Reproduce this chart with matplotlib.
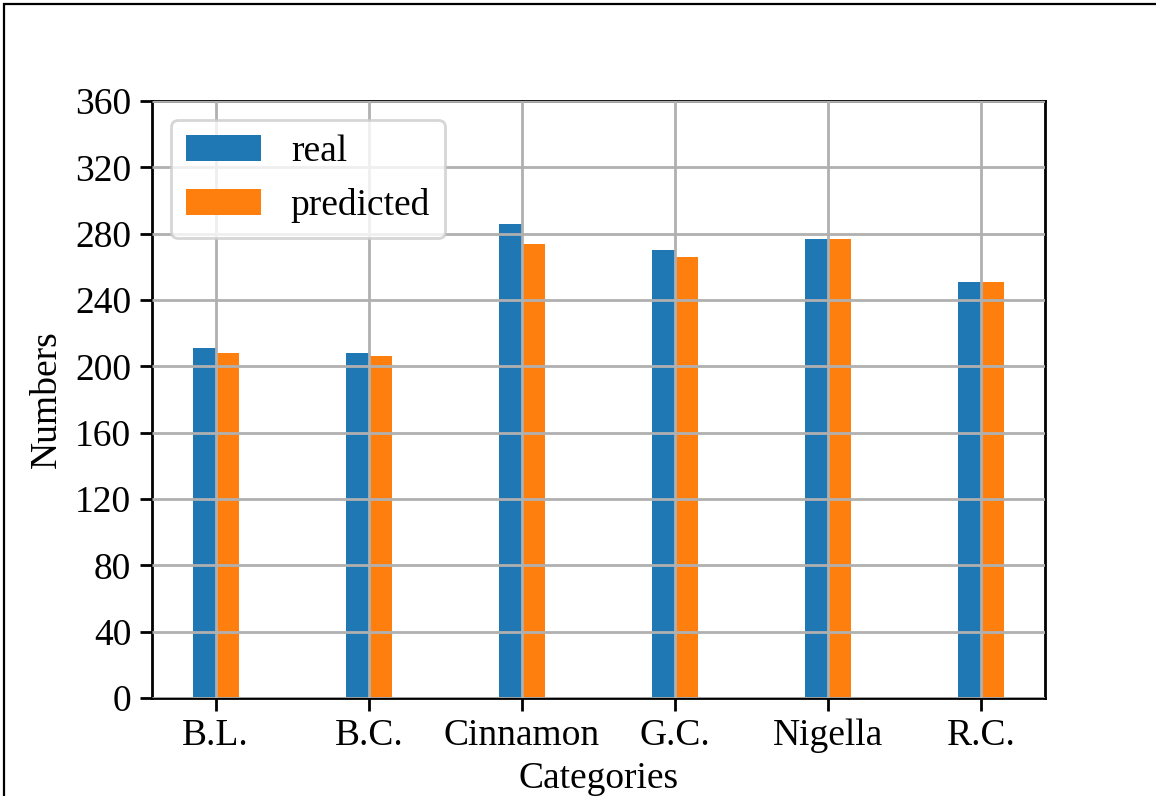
import numpy as np
import matplotlib
matplotlib.use("Agg")
import matplotlib.pyplot as plt
from matplotlib.patches import Rectangle

categories = ["B.L.", "B.C.", "Cinnamon", "G.C.", "Nigella", "R.C."]
real = [211, 208, 286, 270, 277, 251]
predicted = [208, 206, 274, 266, 277, 251]
yticks = [0, 40, 80, 120, 160, 200, 240, 280, 320, 360]

plt.rcParams["font.family"] = ["Liberation Serif", "DejaVu Serif"]
plt.rcParams["font.size"] = 27

fig = plt.figure(figsize=(11.56, 7.96), dpi=100)
ax = fig.add_axes([0.1315, 0.1231, 0.7725, 0.75])

x = np.arange(len(categories))
w = 0.15
ax.bar(x - w / 2, real, w, label="real", color="#1f77b4", zorder=1)
ax.bar(x + w / 2, predicted, w, label="predicted", color="#ff7f0e", zorder=1)

ax.set_xticks(x)
ax.set_xticklabels(categories)
ax.set_yticks(yticks)
ax.set_ylim(0, 360)
ax.set_xlabel("Categories", labelpad=6)
ax.set_ylabel("Numbers", labelpad=8)
ax.grid(True, color="#b0b0b0", linewidth=2, zorder=2)
ax.set_axisbelow(False)
for s in ax.spines.values():
    s.set_linewidth(2)
ax.tick_params(length=9, width=2, pad=6)

leg = ax.legend(loc="upper left", fontsize=27, handlelength=2, framealpha=0.8,
                borderpad=0.4, labelspacing=0.5, borderaxespad=0.5)
leg.get_frame().set_linewidth(2)

# page frame around the figure
fig.add_artist(Rectangle((0.0035, -0.2), 1.2, 1.195, transform=fig.transFigure,
                         fill=False, edgecolor="black", linewidth=1.6))

fig.savefig("out.png", dpi=100)
